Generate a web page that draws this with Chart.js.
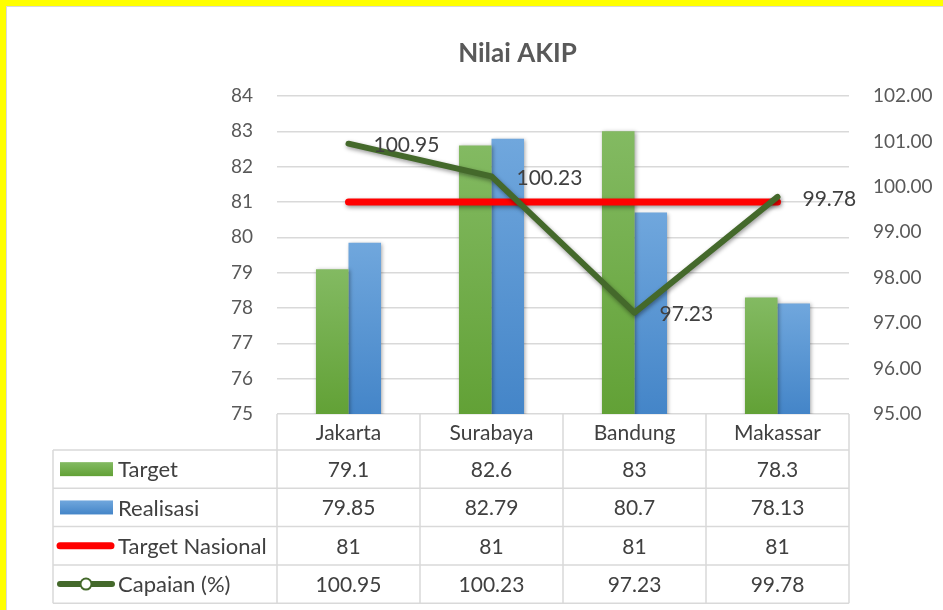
<!DOCTYPE html>
<html>
<head>
<meta charset="utf-8">
<script src="https://cdn.jsdelivr.net/npm/chart.js@4.4.1/dist/chart.umd.min.js"></script>
<style>
  html, body { margin: 0; padding: 0; background: #ffff00; }
  body { position: relative; width: 943px; height: 610px; overflow: hidden; }
  #kartica { position: absolute; left: 6px; top: 6px; width: 1040px; height: 630px;
             background: #fff; border-left: 1px solid #d9d9d9; border-top: 1px solid #d9d9d9; }
  #grafikon { position: absolute; left: 0; top: 0; }
</style>
</head>
<body>
<div id="kartica"></div>
<canvas id="grafikon" width="1035" height="610"></canvas>
<script>
var kota = ["Jakarta", "Surabaya", "Bandung", "Makassar"];
var target = [79.1, 82.6, 83, 78.3];
var realisasi = [79.85, 82.79, 80.7, 78.13];
var targetNasional = [81, 81, 81, 81];
var capaian = [100.95, 100.23, 97.23, 99.78];

var hijauGore = '#83ba62', hijauDole = '#62a136';
var plavaGore = '#70a7dd', plavaDole = '#4485c8';
var crvena = '#ff0000';
var tamnoZelena = '#44692b';
var sivaTekst = '#404040';
var sivaOsa = '#595959';
var sivaLinija = '#d9d9d9';
var font = 'Lato';

// gradijent od vrha stupca do osi
function gradijent(gore, dole) {
    return function(context) {
        var chart = context.chart;
        if (!chart.chartArea || context.raw === undefined) return dole;
        var y = chart.scales.y;
        var vrh = y.getPixelForValue(context.raw);
        var g = chart.ctx.createLinearGradient(0, vrh, 0, chart.chartArea.bottom);
        g.addColorStop(0, gore);
        g.addColorStop(1, dole);
        return g;
    };
}

// sjena ispod stupaca i linija
var sjenaPlugin = {
    id: 'sjena',
    beforeDatasetDraw: function(chart, args) {
        var ctx = chart.ctx;
        ctx.save();
        if (args.meta.type === 'bar') {
            ctx.shadowColor = 'rgba(0,0,0,0.35)';
            ctx.shadowBlur = 4;
            ctx.shadowOffsetX = 1;
            ctx.shadowOffsetY = 1;
        } else {
            ctx.shadowColor = 'rgba(0,0,0,0.4)';
            ctx.shadowBlur = 4;
            ctx.shadowOffsetX = 1;
            ctx.shadowOffsetY = 2;
        }
    },
    afterDatasetDraw: function(chart) {
        chart.ctx.restore();
    }
};

// vrijednosti pored tacaka za Capaian
var oznakePlugin = {
    id: 'oznake',
    afterDatasetsDraw: function(chart) {
        var ctx = chart.ctx;
        var meta = chart.getDatasetMeta(3);
        ctx.save();
        ctx.font = '21px ' + font;
        ctx.fillStyle = sivaTekst;
        ctx.textAlign = 'left';
        ctx.textBaseline = 'middle';
        meta.data.forEach(function(t, i) {
            ctx.fillText(String(capaian[i]), t.x + 25, t.y + 2);
        });
        ctx.restore();
    }
};

// tabela s podacima ispod grafikona
var tabelaPlugin = {
    id: 'tabela',
    afterDraw: function(chart) {
        var ctx = chart.ctx;
        var a = chart.chartArea;
        var xs = chart.scales.x;
        var sirina = (a.right - a.left) / kota.length;
        var lijevo = 53;
        var vrhRedova = 450;
        var visinaReda = 38.3;
        var dno = vrhRedova + 4 * visinaReda;
        var redovi = [
            {naziv: 'Target', podaci: target},
            {naziv: 'Realisasi', podaci: realisasi},
            {naziv: 'Target Nasional', podaci: targetNasional},
            {naziv: 'Capaian (%)', podaci: capaian}
        ];

        ctx.save();
        ctx.strokeStyle = sivaLinija;
        ctx.lineWidth = 1.5;
        ctx.beginPath();
        for (var r = 0; r <= 4; r++) {
            var y = vrhRedova + r * visinaReda;
            ctx.moveTo(lijevo, y);
            ctx.lineTo(a.right, y);
        }
        ctx.moveTo(lijevo, vrhRedova);
        ctx.lineTo(lijevo, dno);
        for (var k = 0; k <= kota.length; k++) {
            var x = a.left + k * sirina;
            ctx.moveTo(x, a.bottom);
            ctx.lineTo(x, dno);
        }
        ctx.stroke();

        ctx.font = '21px ' + font;
        ctx.fillStyle = sivaTekst;
        ctx.textAlign = 'center';
        ctx.textBaseline = 'middle';
        kota.forEach(function(k, i) {
            ctx.fillText(k, xs.getPixelForValue(i), (a.bottom + vrhRedova) / 2 + 1);
        });

        redovi.forEach(function(red, r) {
            var sredina = vrhRedova + r * visinaReda + visinaReda / 2 + 1;
            ctx.font = '21px ' + font;
            ctx.textAlign = 'center';
            ctx.fillStyle = sivaTekst;
            red.podaci.forEach(function(v, i) {
                ctx.fillText(String(v), xs.getPixelForValue(i), sredina);
            });
            ctx.font = '22px ' + font;
            ctx.textAlign = 'left';
            ctx.fillText(red.naziv, 118, sredina);
        });

        // kljucevi legende
        var y0 = vrhRedova + visinaReda / 2;
        var g = ctx.createLinearGradient(0, y0 - 7, 0, y0 + 7);
        g.addColorStop(0, hijauGore); g.addColorStop(1, hijauDole);
        ctx.fillStyle = g;
        ctx.fillRect(60, y0 - 7, 53, 14);

        var y1 = y0 + visinaReda;
        g = ctx.createLinearGradient(0, y1 - 7, 0, y1 + 7);
        g.addColorStop(0, plavaGore); g.addColorStop(1, plavaDole);
        ctx.fillStyle = g;
        ctx.fillRect(60, y1 - 7, 53, 14);

        ctx.lineCap = 'round';
        var y2 = y1 + visinaReda;
        ctx.strokeStyle = crvena;
        ctx.lineWidth = 7;
        ctx.beginPath(); ctx.moveTo(60, y2); ctx.lineTo(111, y2); ctx.stroke();

        var y3 = y2 + visinaReda;
        ctx.strokeStyle = tamnoZelena;
        ctx.lineWidth = 6;
        ctx.beginPath(); ctx.moveTo(60, y3); ctx.lineTo(112, y3); ctx.stroke();
        ctx.fillStyle = '#fff';
        ctx.lineWidth = 2;
        ctx.beginPath(); ctx.arc(86, y3, 5.5, 0, Math.PI * 2); ctx.fill(); ctx.stroke();
        ctx.restore();
    }
};

new Chart("grafikon", {
    data: {
        labels: kota,
        datasets: [{
            type: 'bar',
            label: 'Target',
            data: target,
            yAxisID: 'y',
            order: 3,
            backgroundColor: gradijent(hijauGore, hijauDole),
            barPercentage: 1,
            categoryPercentage: 0.455
        }, {
            type: 'bar',
            label: 'Realisasi',
            data: realisasi,
            yAxisID: 'y',
            order: 4,
            backgroundColor: gradijent(plavaGore, plavaDole),
            barPercentage: 1,
            categoryPercentage: 0.455
        }, {
            type: 'line',
            label: 'Target Nasional',
            data: targetNasional,
            yAxisID: 'y',
            order: 2,
            borderColor: crvena,
            borderWidth: 7,
            borderCapStyle: 'round',
            pointRadius: 0,
            fill: false
        }, {
            type: 'line',
            label: 'Capaian (%)',
            data: capaian,
            yAxisID: 'y1',
            order: 1,
            borderColor: tamnoZelena,
            borderWidth: 6,
            borderCapStyle: 'round',
            borderJoinStyle: 'round',
            pointRadius: 0,
            tension: 0,
            fill: false
        }]
    },
    options: {
        responsive: false,
        animation: false,
        devicePixelRatio: 1,
        layout: { padding: { left: 0, right: 0, top: 0, bottom: 196 } },
        plugins: {
            legend: { display: false },
            tooltip: { enabled: false },
            title: {
                display: true,
                text: 'Nilai AKIP',
                color: sivaOsa,
                font: { family: font, size: 26, weight: 'bold' },
                padding: { top: 38, bottom: 26.8 }
            }
        },
        scales: {
            x: {
                display: false,
                offset: true
            },
            y: {
                position: 'left',
                min: 75,
                max: 84,
                border: { display: false },
                grid: { color: sivaLinija, lineWidth: 1.5, drawTicks: false },
                ticks: {
                    stepSize: 1,
                    padding: 24,
                    color: sivaOsa,
                    font: { family: font, size: 19 }
                },
                afterFit: function(s) { s.width = 277; }
            },
            y1: {
                position: 'right',
                min: 95,
                max: 102,
                border: { display: false },
                grid: { display: false, drawTicks: false },
                ticks: {
                    stepSize: 1,
                    padding: 24,
                    color: sivaOsa,
                    font: { family: font, size: 19 },
                    callback: function(v) { return v.toFixed(2); }
                },
                afterFit: function(s) { s.width = 186; }
            }
        }
    },
    plugins: [sjenaPlugin, oznakePlugin, tabelaPlugin]
});
</script>
</body>
</html>
